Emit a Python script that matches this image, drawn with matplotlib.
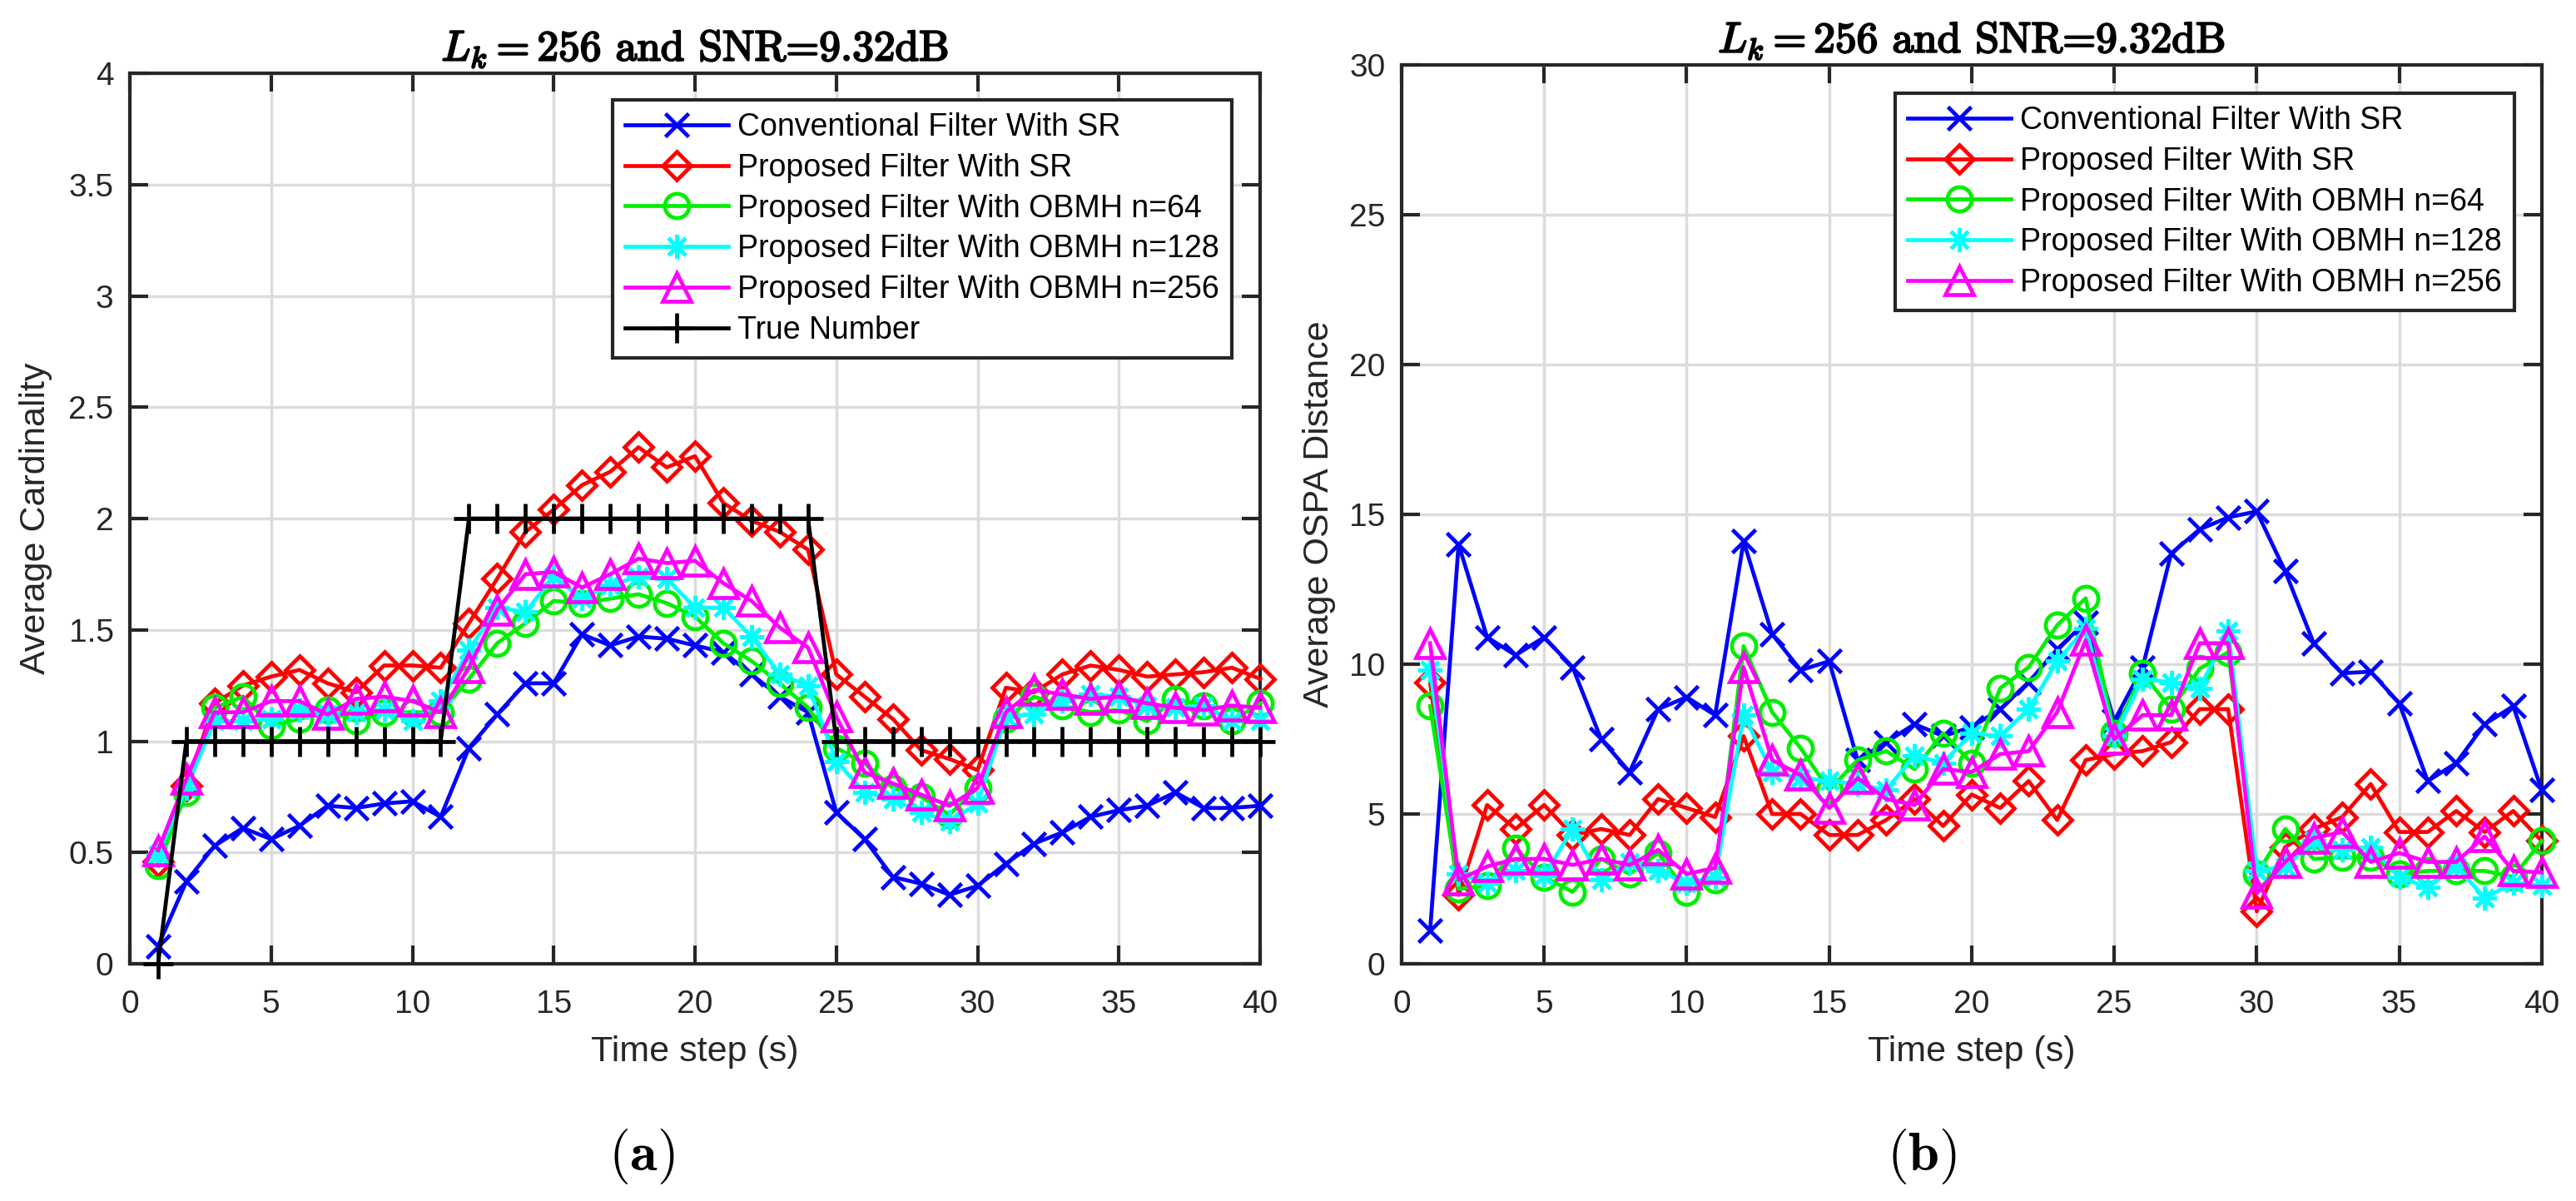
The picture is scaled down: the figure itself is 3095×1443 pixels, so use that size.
import numpy as np
import matplotlib
matplotlib.use("Agg")
import matplotlib.pyplot as plt
import matplotlib.patheffects as pe

# time steps
t = np.arange(1, 41)

# (a) average cardinality
card_conv = [0.08, 0.37, 0.53, 0.61, 0.56, 0.62, 0.71, 0.70, 0.72, 0.73,
             0.66, 0.97, 1.12, 1.26, 1.26, 1.48, 1.43, 1.47, 1.46, 1.43,
             1.40, 1.30, 1.20, 1.13, 0.68, 0.56, 0.39, 0.36, 0.31, 0.35,
             0.45, 0.54, 0.59, 0.66, 0.69, 0.71, 0.77, 0.70, 0.70, 0.71]
card_sr = [0.46, 0.80, 1.17, 1.25, 1.29, 1.32, 1.26, 1.22, 1.34, 1.34,
           1.33, 1.53, 1.73, 1.94, 2.04, 2.15, 2.21, 2.32, 2.23, 2.28,
           2.07, 1.99, 1.94, 1.86, 1.30, 1.20, 1.10, 0.96, 0.92, 0.87,
           1.24, 1.22, 1.30, 1.34, 1.32, 1.29, 1.30, 1.31, 1.33, 1.28]
card_n64 = [0.44, 0.77, 1.15, 1.20, 1.07, 1.10, 1.14, 1.09, 1.13, 1.13,
            1.13, 1.28, 1.44, 1.53, 1.63, 1.62, 1.64, 1.66, 1.62, 1.56,
            1.44, 1.36, 1.26, 1.15, 0.97, 0.90, 0.79, 0.75, 0.67, 0.79,
            1.10, 1.20, 1.16, 1.13, 1.14, 1.09, 1.19, 1.16, 1.09, 1.17]
card_n128 = [0.49, 0.79, 1.09, 1.09, 1.10, 1.14, 1.12, 1.13, 1.14, 1.09,
             1.18, 1.41, 1.60, 1.58, 1.74, 1.64, 1.70, 1.74, 1.73, 1.60,
             1.60, 1.47, 1.30, 1.25, 0.91, 0.77, 0.74, 0.68, 0.64, 0.72,
             1.11, 1.12, 1.18, 1.21, 1.20, 1.16, 1.15, 1.16, 1.09, 1.09]
card_n256 = [0.51, 0.83, 1.13, 1.13, 1.18, 1.18, 1.12, 1.19, 1.20, 1.18,
             1.13, 1.33, 1.59, 1.75, 1.76, 1.69, 1.75, 1.82, 1.80, 1.81,
             1.71, 1.63, 1.51, 1.42, 1.11, 0.86, 0.81, 0.76, 0.71, 0.79,
             1.13, 1.23, 1.21, 1.19, 1.20, 1.17, 1.15, 1.14, 1.16, 1.15]
true_num = [0] + [1] * 10 + [2] * 13 + [1] * 16

# (b) average OSPA distance
ospa_conv = [1.1, 14.0, 10.9, 10.3, 10.9, 9.9, 7.5, 6.4, 8.5, 8.9,
             8.3, 14.1, 11.0, 9.8, 10.1, 6.8, 7.4, 8.0, 7.6, 7.9,
             8.5, 9.4, 10.5, 11.4, 8.1, 9.9, 13.7, 14.5, 14.9, 15.1,
             13.1, 10.7, 9.7, 9.75, 8.7, 6.1, 6.7, 8.0, 8.6, 5.8]
ospa_sr = [9.4, 2.3, 5.3, 4.5, 5.3, 4.3, 4.5, 4.3, 5.5, 5.2,
           4.9, 7.6, 5.0, 5.0, 4.3, 4.3, 4.8, 5.5, 4.6, 5.65,
           5.2, 6.1, 4.8, 6.8, 7.0, 7.1, 7.4, 8.5, 8.5, 1.75,
           3.9, 4.5, 4.9, 6.0, 4.4, 4.4, 5.1, 4.4, 5.1, 4.1]
ospa_n64 = [8.6, 2.5, 2.6, 3.85, 2.9, 2.4, 3.5, 3.0, 3.7, 2.4,
            2.8, 10.6, 8.4, 7.2, 5.8, 6.8, 7.1, 6.5, 7.7, 6.7,
            9.2, 9.9, 11.3, 12.2, 7.7, 9.7, 8.5, 9.85, 10.4, 3.0,
            4.5, 3.5, 3.55, 3.55, 3.0, 3.1, 3.1, 3.1, 2.9, 4.1]
ospa_n128 = [9.8, 3.0, 2.7, 3.1, 2.95, 4.5, 2.8, 3.4, 3.1, 2.7,
             2.9, 8.3, 6.4, 6.2, 6.1, 6.0, 5.8, 6.95, 6.7, 7.7,
             7.6, 8.5, 10.1, 11.2, 7.6, 9.5, 9.4, 9.2, 11.1, 3.1,
             3.25, 4.1, 3.8, 3.9, 2.9, 2.55, 3.25, 2.2, 2.7, 2.6]
ospa_n256 = [10.7, 2.8, 3.25, 3.5, 3.5, 3.3, 3.5, 3.3, 3.8, 3.0,
             3.2, 9.9, 6.8, 6.3, 5.2, 6.2, 5.5, 5.3, 6.5, 6.4,
             7.0, 7.1, 8.4, 10.8, 7.5, 8.3, 8.3, 10.7, 10.7, 2.35,
             3.4, 4.2, 4.4, 3.4, 3.7, 3.4, 3.4, 4.25, 3.1, 3.05]

labels = ["Conventional Filter With SR", "Proposed Filter With SR",
          "Proposed Filter With OBMH n=64", "Proposed Filter With OBMH n=128",
          "Proposed Filter With OBMH n=256", "True Number"]
colors = ["#0000ff", "#ff0000", "#00ee00", "#00ffff", "#ff00ff", "#000000"]
markers = ["x", "D", "o", (8, 2, 0), "^", "+"]
msizes = [20, 17, 21, 21, 25, 26]

plt.rcParams["font.family"] = ["Liberation Sans", "DejaVu Sans"]
plt.rcParams["mathtext.fontset"] = "cm"

fig = plt.figure(figsize=(30.95, 14.43), dpi=100)
ax1 = fig.add_axes([0.0504, 0.1975, 0.4388, 0.7415])
ax2 = fig.add_axes([0.5441, 0.1975, 0.4426, 0.7484])


def draw(ax, series, names):
    for k, y in enumerate(series):
        ax.plot(t, y, color=colors[k], marker=markers[k], ms=msizes[k],
                mfc="none", mec=colors[k], mew=3.4, lw=3.4,
                label=names[k], clip_on=False, zorder=3 + k)


draw(ax1, [card_conv, card_sr, card_n64, card_n128, card_n256, true_num], labels)
draw(ax2, [ospa_conv, ospa_sr, ospa_n64, ospa_n128, ospa_n256], labels[:5])

ax1.set_ylim(0, 4)
ax1.set_yticks(np.arange(0, 4.01, 0.5))
ax1.set_yticklabels(["0", "0.5", "1", "1.5", "2", "2.5", "3", "3.5", "4"])
ax1.set_ylabel("Average Cardinality", fontsize=31, color="#262626", labelpad=14)
ax2.set_ylim(0, 30)
ax2.set_yticks(np.arange(0, 31, 5))
ax2.set_ylabel("Average OSPA Distance", fontsize=31, color="#262626", labelpad=12)

title = r"$L_k = 256$ and SNR=9.32dB"
bold_fx = [pe.withStroke(linewidth=1.6, foreground="black")]
for ax in (ax1, ax2):
    ax.set_xlim(0, 40)
    ax.set_xticks(np.arange(0, 41, 5))
    ax.set_xlabel("Time step (s)", fontsize=31, color="#262626", labelpad=14)
    ttl = ax.set_title(title, fontsize=37, pad=11, fontfamily="cmr10")
    ttl.set_path_effects(bold_fx)
    ax.grid(True, color="#dcdcdc", lw=2.5)
    ax.set_axisbelow(True)
    ax.tick_params(direction="in", length=16, width=3, labelsize=28,
                   colors="#262626", top=True, right=True, pad=14)
    ax.tick_params(axis="x", pad=22)
    for s in ax.spines.values():
        s.set_linewidth(3)
        s.set_color("#262626")

leg_anchor = {ax1: (0.975, 0.970), ax2: (0.976, 0.9685)}
for ax in (ax1, ax2):
    leg = ax.legend(loc="upper right", bbox_to_anchor=leg_anchor[ax],
                    fontsize=27, handlelength=3.3, fancybox=False,
                    framealpha=1, edgecolor="#262626", borderpad=0.4,
                    labelspacing=0.34, handletextpad=0.3, borderaxespad=0)
    leg.get_frame().set_linewidth(3)

fig.text(0.249, 0.037, r"$\mathbf{(a)}$", fontsize=48, ha="center", va="center")
fig.text(0.746, 0.037, r"$\mathbf{(b)}$", fontsize=48, ha="center", va="center")

fig.savefig("out.png", dpi=100)
